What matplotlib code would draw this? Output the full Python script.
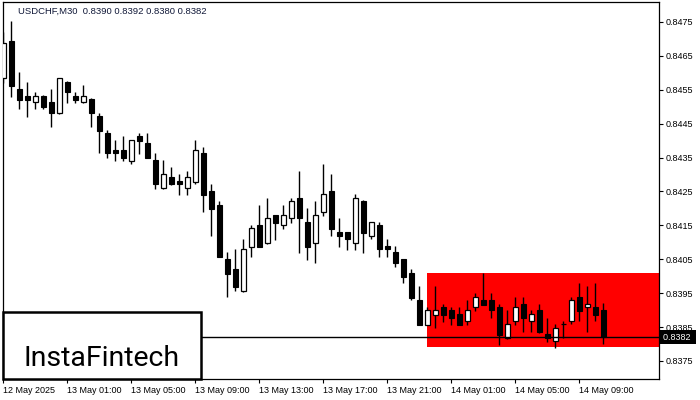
import matplotlib
matplotlib.use("Agg")
import matplotlib.pyplot as plt
from matplotlib.patches import Rectangle
from matplotlib import transforms
import numpy as np

# ---- data ----
title_text = "USDCHF,M30  0.8390 0.8392 0.8380 0.8382"
opens = [0.84584, 0.84694, 0.84552, 0.84531, 0.84514, 0.84531, 0.84513, 0.84481, 0.84574, 0.84531,
         0.84514, 0.84523, 0.84473, 0.84423, 0.84372, 0.84372, 0.84341, 0.84414, 0.84393, 0.84343,
         0.84260, 0.84293, 0.84281, 0.84260, 0.84279, 0.84364, 0.84251, 0.84210, 0.84051, 0.84020,
         0.83957, 0.84087, 0.84151, 0.84099, 0.84180, 0.84150, 0.84171, 0.84230, 0.84160, 0.84099,
         0.84190, 0.84251, 0.84130, 0.84130, 0.84099, 0.84222, 0.84120, 0.84150, 0.84089, 0.84071,
         0.84050, 0.84009, 0.83930, 0.83857, 0.83887, 0.83908, 0.83900, 0.83888, 0.83867, 0.83908,
         0.83930, 0.83930, 0.83908, 0.83817, 0.83867, 0.83918, 0.83867, 0.83900, 0.83830, 0.83809,
         0.83858, 0.83867, 0.83938, 0.83908, 0.83908, 0.83900]
highs = [0.84721, 0.84754, 0.84603, 0.84574, 0.84543, 0.84535, 0.84552, 0.84586, 0.84576, 0.84543,
         0.84564, 0.84525, 0.84481, 0.84431, 0.84402, 0.84414, 0.84403, 0.84423, 0.84423, 0.84363,
         0.84343, 0.84322, 0.84302, 0.84311, 0.84402, 0.84382, 0.84272, 0.84222, 0.84072, 0.84080,
         0.84109, 0.84151, 0.84210, 0.84230, 0.84181, 0.84209, 0.84230, 0.84310, 0.84200, 0.84222,
         0.84331, 0.84302, 0.84171, 0.84131, 0.84242, 0.84224, 0.84161, 0.84159, 0.84109, 0.84089,
         0.84052, 0.84020, 0.83971, 0.83910, 0.83971, 0.83918, 0.83908, 0.83908, 0.83930, 0.83950,
         0.84010, 0.83950, 0.83918, 0.83900, 0.83938, 0.83938, 0.83900, 0.83918, 0.83878, 0.83858,
         0.83867, 0.83938, 0.83980, 0.83971, 0.83980, 0.83920]
lows = [0.84571, 0.84530, 0.84492, 0.84471, 0.84492, 0.84492, 0.84441, 0.84478, 0.84512, 0.84512,
        0.84512, 0.84441, 0.84363, 0.84350, 0.84340, 0.84340, 0.84330, 0.84361, 0.84348, 0.84258,
        0.84258, 0.84269, 0.84241, 0.84241, 0.84271, 0.84190, 0.84120, 0.84056, 0.83938, 0.83957,
        0.83955, 0.84058, 0.84085, 0.84095, 0.84107, 0.84140, 0.84158, 0.84069, 0.84048, 0.84038,
        0.84179, 0.84120, 0.84087, 0.84077, 0.84077, 0.84069, 0.84109, 0.84058, 0.84058, 0.84028,
        0.83979, 0.83930, 0.83855, 0.83855, 0.83848, 0.83866, 0.83857, 0.83855, 0.83857, 0.83897,
        0.83914, 0.83878, 0.83797, 0.83815, 0.83857, 0.83836, 0.83836, 0.83834, 0.83807, 0.83787,
        0.83817, 0.83858, 0.83867, 0.83836, 0.83867, 0.83800]
closes = [0.84687, 0.84562, 0.84521, 0.84521, 0.84531, 0.84500, 0.84481, 0.84584, 0.84543, 0.84521,
          0.84531, 0.84481, 0.84429, 0.84363, 0.84363, 0.84350, 0.84401, 0.84400, 0.84350, 0.84271,
          0.84302, 0.84271, 0.84271, 0.84293, 0.84372, 0.84241, 0.84199, 0.84058, 0.84008, 0.83969,
          0.84080, 0.84141, 0.84087, 0.84171, 0.84158, 0.84180, 0.84222, 0.84171, 0.84087, 0.84180,
          0.84242, 0.84140, 0.84120, 0.84109, 0.84230, 0.84128, 0.84159, 0.84080, 0.84080, 0.84038,
          0.83999, 0.83937, 0.83857, 0.83900, 0.83900, 0.83887, 0.83878, 0.83857, 0.83900, 0.83938,
          0.83916, 0.83900, 0.83828, 0.83858, 0.83908, 0.83878, 0.83888, 0.83836, 0.83817, 0.83848,
          0.83859, 0.83930, 0.83897, 0.83918, 0.83887, 0.83820]
time_tick_index = [0, 8, 16, 24, 32, 40, 48, 56, 64, 72]
time_tick_labels = ["12 May 2025", "13 May 01:00", "13 May 05:00", "13 May 09:00", "13 May 13:00",
                    "13 May 17:00", "13 May 21:00", "14 May 01:00", "14 May 05:00", "14 May 09:00"]
price_ticks = [0.8375, 0.8385, 0.8395, 0.8405, 0.8415, 0.8425, 0.8435, 0.8445, 0.8455, 0.8465, 0.8475]
box_start_index = 53
box_top = 0.8401
box_bottom = 0.8379
current_price = 0.8382
brand = "InstaFintech"

# ---- figure ----
plt.rcParams['font.family'] = ['Liberation Sans', 'DejaVu Sans']
W, H = 700, 400
fig = plt.figure(figsize=(7, 4), dpi=100)
ax_left, ax_right, ax_top, ax_bottom = 3, 659, 2, 379
ax = fig.add_axes([ax_left / W, (H - ax_bottom) / H, (ax_right - ax_left) / W, (ax_bottom - ax_top) / H])

px_per_price = 33900.0
y_top = 0.8475 + (22 - ax_top) / px_per_price
y_bot = 0.8475 - (ax_bottom - 22) / px_per_price
ax.set_ylim(y_bot, y_top)
x0 = (ax_left - 3.3) / 8.0
x1 = (ax_right - 3.3) / 8.0
ax.set_xlim(x0, x1)

n = len(opens)
idx = np.arange(n)
o = np.array(opens); c = np.array(closes); h = np.array(highs); l = np.array(lows)

# red rectangle
ax.add_patch(Rectangle((box_start_index, box_bottom), x1 - box_start_index + 1, box_top - box_bottom,
                       facecolor='#ff0000', edgecolor='none', zorder=1))

# wicks
ax.vlines(idx, l, h, color='black', linewidth=1.0, zorder=3)
# bodies
up = c >= o
bw = 0.58
ax.bar(idx[~up], (o - c)[~up], bottom=c[~up], width=bw, color='black', edgecolor='black',
       linewidth=0.8, zorder=4)
ax.bar(idx[up], np.maximum((c - o)[up], 1e-7), bottom=o[up], width=bw, color='white', edgecolor='black',
       linewidth=0.9, zorder=4)

# current price line
ax.axhline(current_price, color='black', linewidth=1.0, zorder=5)

# axes styling
for s in ax.spines.values():
    s.set_color('black')
    s.set_linewidth(0.9)
ax.yaxis.tick_right()
ax.set_yticks(price_ticks)
ax.set_yticklabels([f"{p:.4f}" for p in price_ticks])
ax.tick_params(axis='y', direction='out', length=3, width=0.8, pad=2, labelsize=6.5, colors='black')
ax.set_xticks(time_tick_index)
ax.set_xticklabels(time_tick_labels)
ax.tick_params(axis='x', direction='out', length=3, width=0.8, pad=2, labelsize=6.5, colors='black')
for t in ax.get_xticklabels():
    t.set_horizontalalignment('left')

# current price label on the right axis
trans = transforms.blended_transform_factory(ax.transAxes, ax.transData)
ax.text(1.006, current_price, "0.8382 ", transform=trans, ha='left', va='center', fontsize=6.5,
        color='white', zorder=10, clip_on=False,
        bbox=dict(boxstyle='square,pad=0.3', facecolor='black', edgecolor='none'))

# title
fig.text(18 / W, 1 - 11 / H, title_text, ha='left', va='center', fontsize=6.8, color='#101838')

# brand box
fig.add_artist(Rectangle((3 / W, (H - 379) / H), 198 / W, 67 / H, transform=fig.transFigure,
                         facecolor='white', edgecolor='black', linewidth=1.8, zorder=20))
fig.text(102 / W, (H - 358) / H, brand, ha='center', va='center', fontsize=20.5, color='black',
         family=['Roboto', 'DejaVu Sans'], fontweight='normal', zorder=21)

fig.savefig("out.png", dpi=100, facecolor='white')
